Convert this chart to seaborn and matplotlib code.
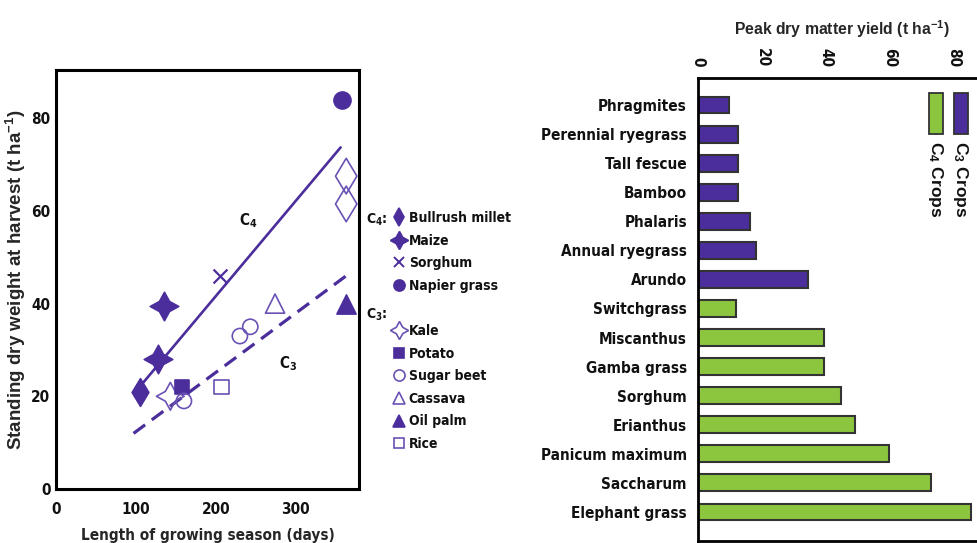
import matplotlib
matplotlib.use("Agg")
import matplotlib.pyplot as plt
from matplotlib.lines import Line2D
from matplotlib.patches import Rectangle
from matplotlib.font_manager import FontProperties
import seaborn as sns
import pandas as pd

# ---- data: left panel (days, t/ha) ----
millet_x, millet_y = [105], [21]
maize_x, maize_y = [135, 128], [39.5, 28]
sorghum_x, sorghum_y = [205], [46]
napier_x, napier_y = [358], [84]
other_c4_x, other_c4_y = [363, 363], [67.5, 61.5]
kale_x, kale_y = [143], [20]
potato_x, potato_y = [158], [22]
beet_x, beet_y = [160, 230, 243], [19, 33, 35]
cassava_x, cassava_y = [274], [40]
oilpalm_x, oilpalm_y = [363], [40]
rice_x, rice_y = [207], [22]

c4_fit_x, c4_fit_y = [103, 356], [21.7, 73.7]
c3_fit_x, c3_fit_y = [97, 363], [12, 46]

# ---- data: right panel ----
crops = ["Phragmites", "Perennial ryegrass", "Tall fescue", "Bamboo", "Phalaris",
         "Annual ryegrass", "Arundo", "Switchgrass", "Miscanthus", "Gamba grass",
         "Sorghum", "Erianthus", "Panicum maximum", "Saccharum", "Elephant grass"]
peak_yield = [9.7, 12.5, 12.5, 12.5, 16.3, 18.1, 34.4, 11.8, 39.5, 39.5,
              44.6, 49.0, 59.7, 72.9, 85.2]
pathway = ["C3"] * 7 + ["C4"] * 8

purple = "#4b2d9c"
lpurple = "#6a52b4"
green = "#8cc63f"

sns.set_style("white")
plt.rcParams["font.family"] = ["DejaVu Sans"]
plt.rcParams["font.stretch"] = "condensed"
plt.rcParams["font.weight"] = "bold"
plt.rcParams["axes.labelweight"] = "bold"
plt.rcParams["mathtext.default"] = "regular"
plt.rcParams["text.color"] = "#111111"
plt.rcParams["xtick.color"] = "#111111"
plt.rcParams["ytick.color"] = "#111111"


def wide(size):
    # the axis titles use a plain (not condensed) bold sans
    return FontProperties(family=["Liberation Sans", "DejaVu Sans"], weight="bold",
                          stretch="normal", size=size)


fig = plt.figure(figsize=(9.78, 5.43), dpi=100)

# ---------------- left panel ----------------
ax1 = fig.add_axes([56 / 978, 1 - 489 / 543, 303 / 978, 419 / 543])

def pts(ax, x, y, marker, size, filled=True, lw=1.2):
    if filled:
        sns.scatterplot(x=x, y=y, ax=ax, marker=marker, s=size, color=purple,
                        edgecolor=purple, linewidth=lw, zorder=3)
    else:
        sns.scatterplot(x=x, y=y, ax=ax, marker=marker, s=size, facecolor="none",
                        edgecolor=lpurple, linewidth=lw, zorder=3)

sns.lineplot(x=c4_fit_x, y=c4_fit_y, ax=ax1, color=purple, lw=1.9)
sns.lineplot(x=c3_fit_x, y=c3_fit_y, ax=ax1, color=purple, lw=2.3,
             linestyle=(0, (4.5, 2.6)))

pts(ax1, millet_x, millet_y, "d", 200)
pts(ax1, maize_x, maize_y, (4, 1, 0), 420)
sns.scatterplot(x=sorghum_x, y=sorghum_y, ax=ax1, marker="x", s=100, color=purple,
                linewidth=1.6, zorder=3)
pts(ax1, napier_x, napier_y, "o", 150)
pts(ax1, other_c4_x, other_c4_y, "d", 330, filled=False)
pts(ax1, kale_x, kale_y, (4, 1, 0), 400, filled=False)
pts(ax1, potato_x, potato_y, "s", 90)
pts(ax1, beet_x, beet_y, "o", 120, filled=False)
pts(ax1, cassava_x, cassava_y, "^", 190, filled=False)
pts(ax1, oilpalm_x, oilpalm_y, "^", 190)
pts(ax1, rice_x, rice_y, "s", 110, filled=False)

ax1.text(240, 58, "C$_4$", fontsize=11, ha="center", va="center")
ax1.text(290, 27, "C$_3$", fontsize=11, ha="center", va="center")

ax1.set_xlim(0, 379)
ax1.set_ylim(0, 90.4)
ax1.set_xticks([0, 100, 200, 300])
ax1.set_yticks([0, 20, 40, 60, 80])
ax1.tick_params(axis="x", direction="in", length=13, width=2, labelsize=11, pad=9)
ax1.tick_params(axis="y", direction="in", length=8, width=2, labelsize=11, pad=4)
ax1.xaxis.get_major_ticks()[0].tick1line.set_visible(False)
ax1.yaxis.get_major_ticks()[0].tick1line.set_visible(False)
for s in ax1.spines.values():
    s.set_linewidth(2.2)
    s.set_color("black")
    s.set_visible(True)
ax1.set_xlabel("Length of growing season (days)", fontsize=11, labelpad=8)
ax1.set_ylabel("Standing dry weight at harvest (t ha$^{-1}$)", fontproperties=wide(13.5))
ax1.yaxis.set_label_coords(-28 / 303, 0.5)

# left legend (two groups)
def h(marker, ms, filled=True):
    return Line2D([0], [0], linestyle="none", marker=marker, markersize=ms,
                  markerfacecolor=purple if filled else "none",
                  markeredgecolor=purple if filled else lpurple, markeredgewidth=1.2)

c4_handles = [h("d", 9), h((4, 1, 0), 13),
              Line2D([0], [0], linestyle="none", marker="x", markersize=7,
                     markeredgecolor=purple, markeredgewidth=1.4),
              h("o", 8)]
c4_labels = ["Bullrush millet", "Maize", "Sorghum", "Napier grass"]
c3_handles = [h((4, 1, 0), 13, False), h("s", 7), h("o", 8, False), h("^", 8, False),
              h("^", 8), h("s", 7, False)]
c3_labels = ["Kale", "Potato", "Sugar beet", "Cassava", "Oil palm", "Rice"]

leg_kw = dict(frameon=False, fontsize=10, handlelength=1.0, handletextpad=0.2,
              labelspacing=0.62, borderpad=0, borderaxespad=0)
fig.legend(c4_handles, c4_labels, loc="upper left",
           bbox_to_anchor=(392 / 978, 1 - 211 / 543), **leg_kw)
fig.legend(c3_handles, c3_labels, loc="upper left",
           bbox_to_anchor=(392 / 978, 1 - 324 / 543), **leg_kw)
fig.text(377 / 978, 1 - 220 / 543, "C$_4$:", fontsize=10, ha="center", va="center")
fig.text(377 / 978, 1 - 315 / 543, "C$_3$:", fontsize=10, ha="center", va="center")

# ---------------- right panel ----------------
ax2 = fig.add_axes([698 / 978, 1 - 541 / 543, 288 / 978, 463 / 543])
df = pd.DataFrame({"crop": crops, "yield": peak_yield, "pathway": pathway})
sns.barplot(data=df, y="crop", x="yield", hue="pathway", orient="h", dodge=False,
            palette={"C3": purple, "C4": green}, saturation=1,
            edgecolor="#333333", linewidth=1.5, width=0.58, legend=False, ax=ax2)
ax2.set_xlim(0, 90)
ax2.set_ylim(len(crops) - 1 + 1.0, -0.93)
ax2.xaxis.tick_top()
ax2.xaxis.set_label_position("top")
ax2.set_xticks([0, 20, 40, 60, 80])
ax2.tick_params(axis="x", length=0, labelsize=11, pad=8, labelrotation=-90)
ax2.tick_params(axis="y", length=0, labelsize=11, pad=8)
for lbl in ax2.get_xticklabels():
    lbl.set_va("bottom")
ax2.set_ylabel("")
ax2.set_xlabel("Peak dry matter yield (t ha$^{-1}$)", fontproperties=wide(11.3),
               labelpad=9)
for k in ["left", "top", "bottom"]:
    ax2.spines[k].set_linewidth(2.0)
    ax2.spines[k].set_color("black")
ax2.spines["right"].set_visible(False)

# rotated legend in the top-right corner
for x0, col, lab in [(929, green, "C$_4$ Crops"), (954, purple, "C$_3$ Crops")]:
    ax2.add_patch(Rectangle(((x0 - 698) / 3.2, -0.4), 14 / 3.2, 1.4,
                            facecolor=col, edgecolor="#333333", lw=1.3,
                            transform=ax2.transData, clip_on=False))
    ax2.text((x0 + 7 - 698) / 3.2, 1.25, lab, rotation=-90, ha="center", va="top",
             fontproperties=wide(12.5))

fig.savefig("out.png", dpi=100)
